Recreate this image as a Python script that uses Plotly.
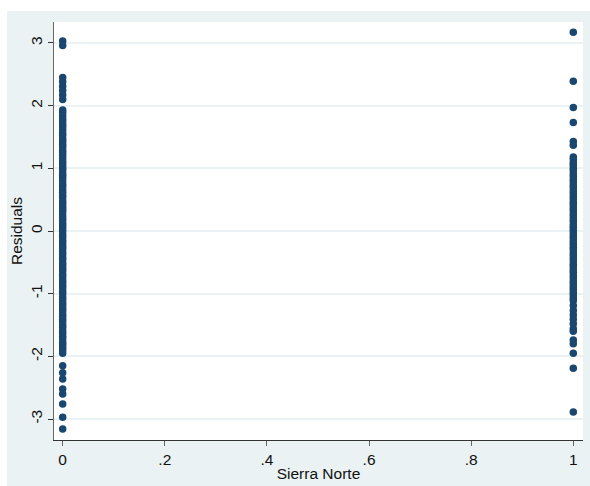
import plotly.graph_objects as go

# Residuals observed at Sierra Norte = 0
resid_0 = [3.03, 2.96, 2.45, 2.38, 2.31, 2.24, 2.17, 2.10,
           1.93, 1.89, 1.84, 1.79, 1.75, 1.70, 1.66, 1.61, 1.56, 1.52, 1.47, 1.43,
           1.38, 1.34, 1.29, 1.25, 1.21, 1.16, 1.11, 1.07, 1.02, 0.98, 0.93, 0.89,
           0.85, 0.80, 0.75, 0.71, 0.66, 0.62, 0.57, 0.53, 0.48, 0.44, 0.39, 0.35,
           0.31, 0.26, 0.21, 0.17, 0.12, 0.08, 0.03, -0.01, -0.06, -0.10, -0.15,
           -0.19, -0.24, -0.28, -0.33, -0.37, -0.42, -0.46, -0.51, -0.55, -0.60,
           -0.64, -0.69, -0.73, -0.78, -0.82, -0.87, -0.91, -0.96, -1.00, -1.05,
           -1.09, -1.14, -1.18, -1.23, -1.27, -1.32, -1.36, -1.41, -1.45, -1.50,
           -1.54, -1.59, -1.63, -1.68, -1.72, -1.77, -1.81, -1.86, -1.90, -1.95,
           -2.15, -2.26, -2.36, -2.52, -2.60, -2.76, -2.97, -3.16]

# Residuals observed at Sierra Norte = 1
resid_1 = [3.17, 2.39, 1.97, 1.73, 1.43, 1.37,
           1.18, 1.14, 1.09, 1.05, 1.00, 0.96, 0.91, 0.87, 0.82, 0.78, 0.73, 0.69,
           0.64, 0.60, 0.55, 0.51, 0.46, 0.42, 0.37, 0.33, 0.28, 0.24, 0.19, 0.15,
           0.10, 0.06, 0.01, -0.03, -0.08, -0.12, -0.17, -0.21, -0.26, -0.30,
           -0.35, -0.39, -0.44, -0.48, -0.53, -0.57, -0.62, -0.66, -0.71, -0.75,
           -0.80, -0.84, -0.89, -0.93, -0.98, -1.02, -1.07, -1.11,
           -1.19, -1.27, -1.34, -1.41, -1.48, -1.56, -1.60, -1.74, -1.80, -1.95,
           -2.19, -2.89]

x_ticks = [0, 0.2, 0.4, 0.6, 0.8, 1]
x_tick_labels = ["0", ".2", ".4", ".6", ".8", "1"]
y_ticks = [-3, -2, -1, 0, 1, 2, 3]
y_tick_labels = ["-3", "-2", "-1", "0", "1", "2", "3"]

xs = [0] * len(resid_0) + [1] * len(resid_1)
ys = resid_0 + resid_1

navy = "#1A476F"
bg = "#EAF2F3"
font = "Liberation Sans, Arial, sans-serif"

fig = go.Figure()
fig.add_trace(go.Scatter(
    x=xs, y=ys, mode="markers",
    marker=dict(color=navy, size=7.5, line=dict(width=0)),
    showlegend=False, hoverinfo="skip"))

W, H = 590, 486
ml, mr, mt, mb = 54, 7, 22, 46
pw, ph = W - ml - mr, H - mt - mb

def px_x(p):
    return (p - ml) / pw

def px_y(p):
    return (H - mb - p) / ph

shapes = [
    dict(type="rect", xref="paper", yref="paper", x0=px_x(0), x1=px_x(W),
         y0=px_y(11), y1=px_y(0), fillcolor="white", line=dict(width=0), layer="below"),
    dict(type="rect", xref="paper", yref="paper", x0=px_x(0), x1=px_x(7),
         y0=px_y(H), y1=px_y(0), fillcolor="white", line=dict(width=0), layer="below"),
]

fig.update_layout(
    width=W, height=H,
    margin=dict(l=ml, r=mr, t=mt, b=mb, pad=0),
    paper_bgcolor=bg, plot_bgcolor="white",
    font=dict(family=font, size=15.5, color="#111"),
    shapes=shapes,
    xaxis=dict(
        range=[-0.017, 1.019], tickvals=x_ticks, ticktext=x_tick_labels,
        showgrid=False, zeroline=False, showline=True, linecolor="#333", linewidth=1,
        ticks="outside", ticklen=5, tickcolor="#666", tickwidth=1,
        title=dict(text="Sierra Norte", standoff=1, font=dict(size=15.5)),
        tickfont=dict(size=15.5),
    ),
    yaxis=dict(
        range=[-3.335, 3.335], tickvals=y_ticks, ticktext=y_tick_labels,
        showgrid=True, gridcolor=bg, gridwidth=1.5, zeroline=False,
        showline=True, linecolor="#666", linewidth=1,
        ticks="outside", ticklen=5, tickcolor="#333", tickwidth=1,
        tickangle=-90,
        title=dict(text="Residuals", standoff=1, font=dict(size=15.5)),
        tickfont=dict(size=15.5),
    ),
)

fig.write_html("out.html")
